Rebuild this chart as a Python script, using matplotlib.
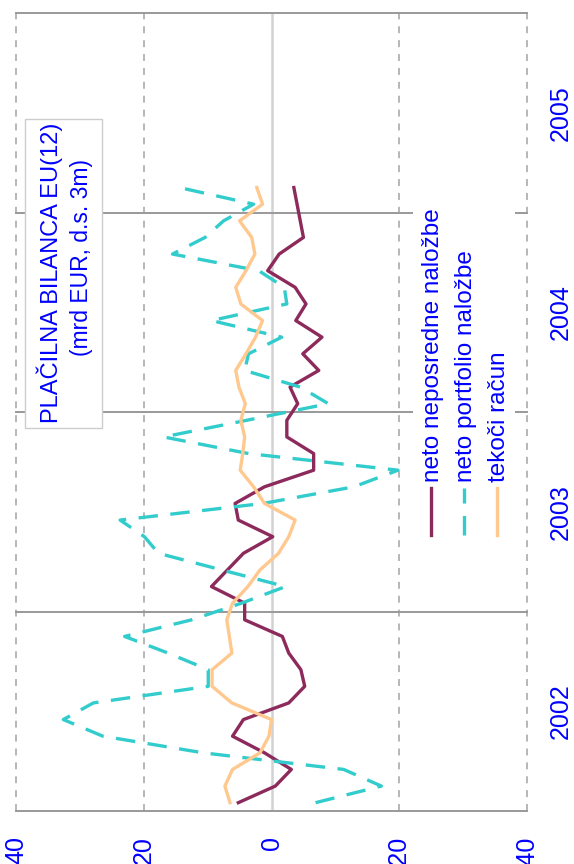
#plot.py
#placilna bilanca EU(12), chart drawn turned on its side
import matplotlib
matplotlib.use("Agg")
import matplotlib.pyplot as plt
import numpy as np
from matplotlib.patches import Rectangle

plt.rcParams['font.family'] = ['Liberation Sans', 'DejaVu Sans']
plt.rcParams['lines.scale_dashes'] = False

#monthly data, jan 2002 - feb 2005 (mrd EUR)
months = [f"{y}-{m:02d}" for y in range(2002, 2006) for m in range(1, 13)][:38]
neposredne = [5.2, -0.6, -3.1, 1.1, 6.1, 4.4, -2.7, -5.2, -4.6, -2.7, -1.7, 4.2,
              4.2, 9.4, 6.9, 4.4, -0.2, 5.2, 5.7, 1.1, -6.6, -6.6, -2.4, -2.4,
              -4.1, -2.9, -7.4, -4.9, -7.9, -3.8, -5.4, -3.7, 0.6, -1.2, -5.0, -4.5,
              -4.0, -3.5]
portfolio = [-6.9, -17.2, -11.3, 10.7, 26.4, 32.6, 27.9, 9.9, 9.9, 16.2, 23.0, 12.5,
             4.7, -2.2, 7.8, 17.7, 19.9, 23.7, 1.3, -12.9, -19.8, 3.6, 16.9, 3.9,
             -8.9, -4.5, 4.2, 3.6, -1.6, 9.4, -2.4, -2.0, 2.0, 15.5, 10.4, 7.5,
             2.8, 14.4]
tekoci = [6.5, 7.3, 6.1, 1.8, 0.4, 0.0, 6.2, 9.3, 9.3, 6.2, 6.6, 7.0,
          6.1, 3.7, 1.8, -1.1, -2.7, -3.7, 1.1, 2.8, 4.9, 4.5, 4.2, 4.8,
          4.1, 5.1, 5.6, 4.0, 2.5, 1.4, 4.8, 5.6, 4.0, 2.6, 3.1, 5.0,
          1.4, 2.3]
years = ['2002', '2003', '2004', '2005']
val_ticks = [40, 20, 0, -20, -40]

names = ['neto neposredne naložbe', 'neto portfolio naložbe', 'tekoči račun']
colors = ['#8c2a5c', '#33cccc', '#ffc88e']
styles = ['-', (0, (14, 9)), '-']

fig = plt.figure(figsize=(5.74, 8.64), dpi=100)
ax = fig.add_axes([16/574, 53/864, 511/574, 798/864])

#time runs upwards, values run right to left
pos = np.arange(len(months)) + 0.5
for serie, c, ls in zip([neposredne, portfolio, tekoci], colors, styles):
    ax.plot(serie, pos, color=c, lw=2.4, linestyle=ls, zorder=3)

ax.set_xlim(40, -40)
ax.set_ylim(0, 12*len(years))

#grid
for v in val_ticks:
    if v == 0:
        ax.axvline(v, color='#d2d2d2', lw=1.8, zorder=1)
    else:
        ax.axvline(v, color='#aaaaaa', lw=1.2, dashes=(5, 5), zorder=1, clip_on=False)
for k in range(len(years)+1):
    ax.axhline(12*k, color='#999999', lw=1.4, zorder=1, clip_on=False)
for s in ax.spines.values():
    s.set_visible(False)

ax.set_xticks(val_ticks)
ax.set_xticklabels([str(v) for v in val_ticks], rotation=90)
ax.tick_params(axis='x', length=0, pad=18, labelsize=18, labelcolor='blue')
ax.set_yticks([12*k+6 for k in range(len(years))])
ax.set_yticklabels(years, rotation=90, va='center')
ax.yaxis.tick_right()
ax.tick_params(axis='y', length=0, pad=16, labelsize=18, labelcolor='blue')

#title box
ax.add_patch(Rectangle((0.0176, 0.48), 0.15, 0.387, transform=ax.transAxes,
                       facecolor='white', edgecolor='#cccccc', lw=1, zorder=4))
ax.text(0.0665, 0.675, 'PLAČILNA BILANCA EU(12)', transform=ax.transAxes, rotation=90,
        ha='center', va='center', color='blue', fontsize=17, zorder=5)
ax.text(0.129, 0.694, '(mrd EUR, d.s. 3m)', transform=ax.transAxes, rotation=90,
        ha='center', va='center', color='blue', fontsize=16.5, zorder=5)

#legend
ax.add_patch(Rectangle((0.777, 0.333), 0.2, 0.451, transform=ax.transAxes,
                       facecolor='white', edgecolor='none', zorder=4))
for k in range(3):
    xc = 0.812 + k*0.0645
    ax.plot([xc, xc], [0.346, 0.405], transform=ax.transAxes, color=colors[k],
            lw=2.4, linestyle=styles[k], zorder=5)
    ax.text(xc + 0.004, 0.412, names[k], transform=ax.transAxes, rotation=90,
            ha='center', va='bottom', color='blue', fontsize=17.5, zorder=5)

plt.savefig('out.png', dpi=100)
